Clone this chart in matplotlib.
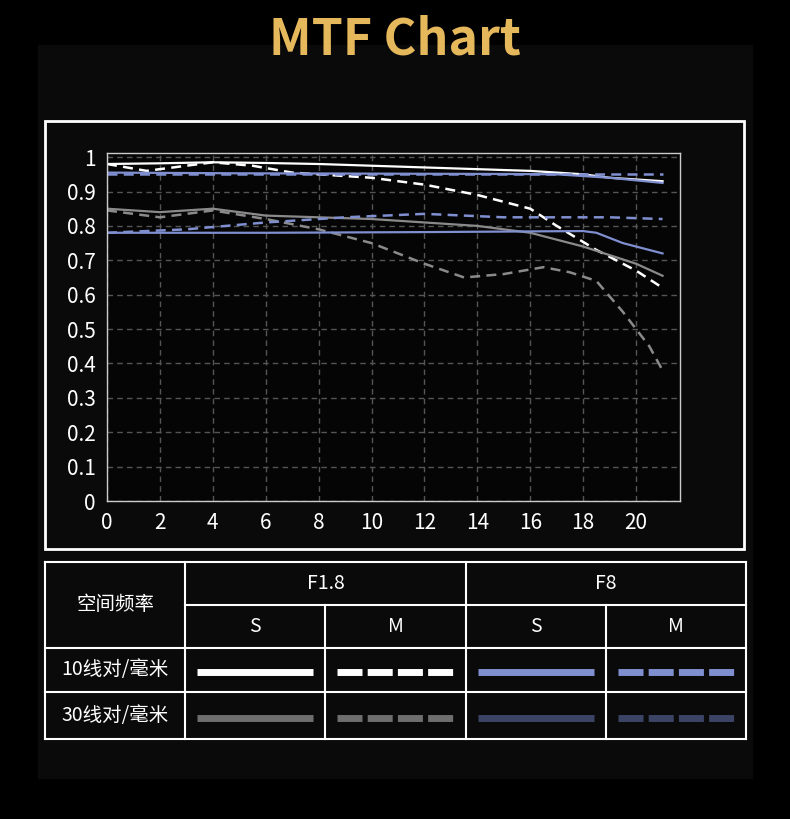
import numpy as np
import matplotlib.pyplot as plt

plt.rcParams['font.family'] = ['Noto Sans CJK SC', 'DejaVu Sans']

# 空间频率 (线对/毫米) 位置
x_s10 = [0, 2, 4, 6, 8, 10, 12, 14, 16, 18, 19, 20, 21]
f18_s10 = [0.98, 0.982, 0.985, 0.983, 0.98, 0.975, 0.97, 0.965, 0.96, 0.95, 0.94, 0.935, 0.93]
x_m10 = [0, 1.5, 3, 4, 5.5, 7, 10, 12, 14, 16, 17, 18.5, 20, 21]
f18_m10 = [0.98, 0.96, 0.975, 0.985, 0.975, 0.955, 0.94, 0.92, 0.89, 0.85, 0.80, 0.73, 0.67, 0.62]
x_f8_s10 = [0, 5, 10, 15, 17, 19, 21]
f8_s10 = [0.955, 0.953, 0.952, 0.951, 0.95, 0.94, 0.925]
x_f8_m10 = [0, 5, 10, 15, 21]
f8_m10 = [0.95, 0.95, 0.95, 0.95, 0.95]
x_s30 = [0, 2, 4, 6, 8, 10, 12, 14, 16, 18, 20, 21]
f18_s30 = [0.85, 0.84, 0.85, 0.83, 0.825, 0.82, 0.81, 0.80, 0.78, 0.74, 0.69, 0.655]
x_m30 = [0, 2, 4, 6, 8, 10, 12, 13.5, 15, 16.5, 17.5, 18.5, 19.5, 20.5, 21]
f18_m30 = [0.845, 0.825, 0.845, 0.82, 0.79, 0.75, 0.69, 0.65, 0.66, 0.68, 0.665, 0.64, 0.55, 0.45, 0.38]
x_f8_s30 = [0, 6, 12, 18, 18.5, 19.5, 21]
f8_s30 = [0.78, 0.78, 0.782, 0.785, 0.78, 0.75, 0.72]
x_f8_m30 = [0, 3, 6, 9, 12, 15, 19, 21]
f8_m30 = [0.78, 0.79, 0.81, 0.825, 0.835, 0.825, 0.825, 0.82]

W, H = 790, 819
fig = plt.figure(figsize=(W / 100, H / 100), dpi=100, facecolor='black')
bg = fig.add_axes([0, 0, 1, 1])
bg.set_xlim(0, W)
bg.set_ylim(H, 0)
bg.axis('off')
bg.add_patch(plt.Rectangle((38, 45), 714, 733, color='#0a0a0a'))
bg.text(W / 2, 40, 'MTF Chart', color='#e6b85c', fontsize=36, fontweight='bold', ha='center', va='center')
bg.add_patch(plt.Rectangle((45, 121), 699, 428, fill=False, ec='white', lw=2))

# 图表区
ax = fig.add_axes([107 / W, 1 - 501 / H, (680 - 107) / W, (501 - 153) / H])
ax.set_facecolor('#050505')
ax.set_xlim(0, 21.66)
ax.set_ylim(0, 1.012)
ax.set_xticks(range(0, 22, 2))
ax.set_yticks(np.arange(0, 1.01, 0.1))
ax.set_yticklabels(['0', '0.1', '0.2', '0.3', '0.4', '0.5', '0.6', '0.7', '0.8', '0.9', '1'])
ax.tick_params(colors='white', labelsize=15, length=0, pad=8)
ax.grid(True, color='#555555', ls=(0, (4, 3)), lw=1)
for s in ax.spines.values():
    s.set_color('#cccccc')
    s.set_linewidth(1)

white, gray, blue = 'white', '#8a8a8a', '#7f8fd0'
dash = (0, (4, 2.5))
ax.plot(x_s10, f18_s10, color=white, lw=1.6)
ax.plot(x_m10, f18_m10, color=white, lw=1.8, ls=dash)
ax.plot(x_f8_s10, f8_s10, color=blue, lw=1.6)
ax.plot(x_f8_m10, f8_m10, color=blue, lw=1.8, ls=dash)
ax.plot(x_s30, f18_s30, color=gray, lw=1.6)
ax.plot(x_m30, f18_m30, color=gray, lw=1.8, ls=dash)
ax.plot(x_f8_s30, f8_s30, color=blue, lw=1.6)
ax.plot(x_f8_m30, f8_m30, color=blue, lw=1.8, ls=dash)

# 图例表格
cols = [45, 185, 325, 466, 606, 746]
rows = [562, 605, 648, 692, 739]
lc = 'white'
bg.plot([cols[0], cols[-1]], [rows[0], rows[0]], color=lc, lw=1.5)
bg.plot([cols[1], cols[-1]], [rows[1], rows[1]], color=lc, lw=1.5)
for r in rows[2:]:
    bg.plot([cols[0], cols[-1]], [r, r], color=lc, lw=1.5)
for i, c in enumerate(cols):
    top = rows[0] if i in (0, 1, 3, 5) else rows[1]
    bg.plot([c, c], [top, rows[-1]], color=lc, lw=1.5)

fs = 14
bg.text((cols[0] + cols[1]) / 2, (rows[0] + rows[2]) / 2, '空间频率', color='white', fontsize=fs, ha='center', va='center')
bg.text((cols[1] + cols[3]) / 2, (rows[0] + rows[1]) / 2, 'F1.8', color='white', fontsize=fs, ha='center', va='center')
bg.text((cols[3] + cols[5]) / 2, (rows[0] + rows[1]) / 2, 'F8', color='white', fontsize=fs, ha='center', va='center')
for i, lab in enumerate(['S', 'M', 'S', 'M']):
    bg.text((cols[i + 1] + cols[i + 2]) / 2, (rows[1] + rows[2]) / 2, lab, color='white', fontsize=fs, ha='center', va='center')
bg.text((cols[0] + cols[1]) / 2, (rows[2] + rows[3]) / 2, '10线对/毫米', color='white', fontsize=fs, ha='center', va='center')
bg.text((cols[0] + cols[1]) / 2, (rows[3] + rows[4]) / 2, '30线对/毫米', color='white', fontsize=fs, ha='center', va='center')

sample_colors = [['white', 'white', '#7f8fd0', '#7f8fd0'],
                 ['#6e6e6e', '#6e6e6e', '#3c4466', '#3c4466']]
for r in range(2):
    y = (rows[r + 2] + rows[r + 3]) / 2 + 2
    for i in range(4):
        x0, x1 = cols[i + 1] + 12, cols[i + 2] - 12
        ls = '-' if i % 2 == 0 else (0, (3.6, 0.75))
        bg.plot([x0, x1], [y, y], color=sample_colors[r][i], lw=5, ls=ls, solid_capstyle='butt', dash_capstyle='butt')

fig.savefig('out.png', dpi=100, facecolor='black')
